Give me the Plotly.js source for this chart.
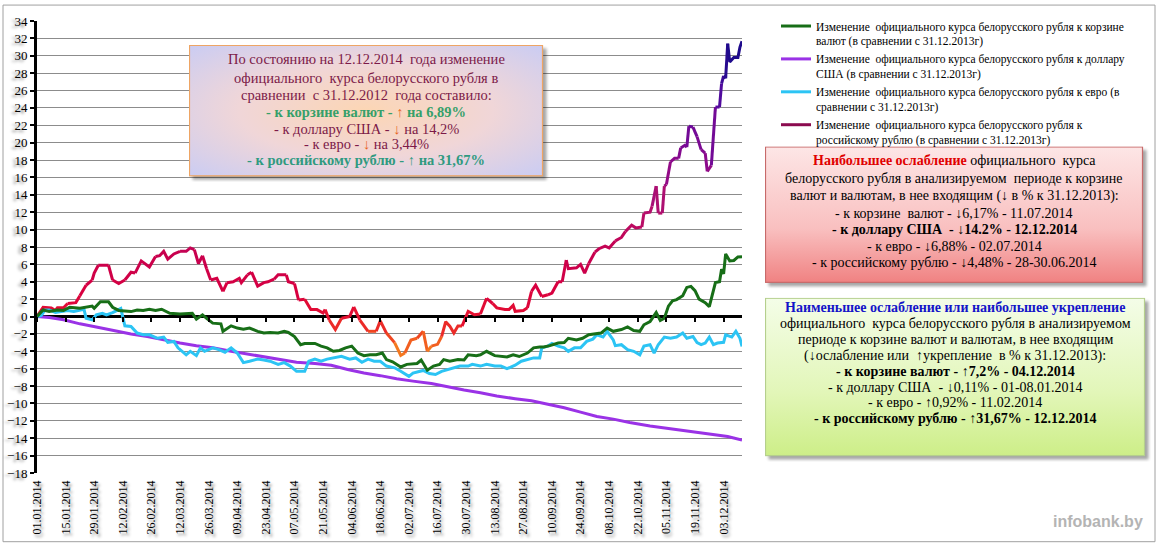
<!DOCTYPE html>
<html><head><meta charset="utf-8">
<script src="https://cdn.plot.ly/plotly-3.0.1.min.js"></script>
<style>html,body{margin:0;padding:0;background:#fff}</style>
</head><body>
<div id="chart" style="width:1161px;height:547px"></div>
<script>
// ---- DATA (day offset from 01.01.2014, value in %) ----
const basketDays = [0,3,6,10,13,16,21,24,27,28,31,35,37,40,46,49,52,55,58,61,65,70,73,76,78,81,83,86,90,91,95,98,101,104,108,111,114,118,121,123,126,129,131,136,139,142,145,148,151,154,157,160,163,166,169,171,174,178,181,186,188,191,194,197,199,202,206,209,211,215,217,220,224,227,230,233,236,240,243,246,248,251,255,258,260,264,267,270,273,276,279,282,286,289,292,295,297,300,303,305,307,309,311,313,316,318,320,322,324,327,329,332,334,335,336,337,339,341,343,345];
const basketVals = [0,0.76,0.57,0.76,0.7,1.07,0.95,1.07,1.2,0.95,1.7,1.7,1.07,0.7,0.57,0.76,0.7,0.84,0.7,0.84,0.38,0.3,0.3,0.38,-0.3,0.19,-0.2,-0.76,-0.84,-1.7,-1.07,-1.33,-1.45,-1.33,-1.7,-1.9,-1.83,-1.9,-1.7,-1.83,-2.3,-3.24,-3.1,-3.1,-3.4,-3.6,-4.0,-3.9,-3.6,-3.4,-4.2,-4.5,-4.4,-4.4,-4.2,-4.95,-5.2,-5.8,-5.5,-5.4,-5.0,-6.17,-5.7,-5.5,-4.95,-5.14,-4.95,-5.0,-4.4,-4.5,-4.4,-4.0,-4.5,-4.6,-4.65,-4.4,-4.6,-4.2,-3.6,-3.5,-3.5,-3.35,-3.05,-3.0,-2.5,-2.7,-2.5,-2.1,-2.0,-1.9,-1.33,-1.7,-1.5,-1.2,-1.6,-1.7,-0.95,-0.57,0.46,-0.46,-0.2,1.2,1.8,1.95,2.4,3.35,3.47,2.97,2.0,1.6,1.14,3.9,4.0,5.45,4.9,7.2,6.4,6.45,6.86,6.89];

const usdDays = [0,6,13,21,29,37,46,54,62,70,78,86,95,103,111,119,127,136,144,152,160,168,176,184,193,201,209,217,225,234,242,250,258,266,274,282,290,300,310,320,330,338,345];
const usdVals = [0,-0.11,-0.38,-0.84,-1.2,-1.6,-2.0,-2.3,-2.7,-3.05,-3.35,-3.6,-4.0,-4.3,-4.6,-4.95,-5.26,-5.4,-5.6,-6.1,-6.5,-6.8,-7.16,-7.43,-7.7,-8.07,-8.46,-8.76,-9.14,-9.45,-9.7,-10.1,-10.5,-11.0,-11.5,-11.8,-12.2,-12.6,-12.9,-13.2,-13.5,-13.8,-14.2];

const eurDays = [0,2,4,6,9,12,15,18,21,23,24,27,29,32,34,37,41,42,43,46,49,52,55,59,62,64,67,69,73,75,78,80,82,86,89,92,95,98,101,104,108,111,114,118,121,124,127,131,133,136,139,142,145,149,153,156,159,162,165,168,171,175,178,182,184,188,189,192,195,198,201,204,207,211,213,217,220,224,227,230,234,237,240,243,246,247,250,252,255,258,260,263,266,269,272,274,277,279,282,283,286,289,292,295,297,300,302,304,307,310,313,316,318,321,323,325,327,329,331,333,336,337,340,342,344,345];
const eurVals = [0,0.1,0.76,0.76,0.46,0.57,0.69,0.57,0.76,0.84,-0.19,-0.38,0.19,0.38,0.19,0.46,0.92,0,-1.07,-1.14,-1.9,-2.1,-2.1,-2.5,-2.36,-2.97,-2.86,-3.6,-4.4,-4.0,-4.5,-3.6,-4.0,-3.6,-3.8,-4.1,-3.6,-4.2,-5.3,-5.14,-4.9,-5.0,-5.14,-5.5,-5.3,-5.7,-6.3,-6.3,-5.14,-4.9,-5.14,-4.9,-4.76,-4.57,-4.9,-4.76,-5.26,-4.9,-5.14,-5.14,-5.7,-5.9,-6.3,-6.88,-6.5,-6.3,-6.2,-6.55,-6.67,-6.3,-6.1,-5.9,-5.7,-5.7,-5.5,-5.7,-5.5,-5.7,-5.7,-6.0,-5.6,-5.14,-4.95,-4.76,-4.76,-3.6,-3.4,-3.1,-3.4,-3.6,-4.0,-3.6,-3.6,-2.86,-2.6,-2.1,-2.36,-1.7,-2.7,-3.35,-3.24,-3.8,-4.0,-4.4,-3.4,-3.24,-4.2,-3.24,-2.36,-2.5,-2.36,-1.9,-2.5,-2.3,-3.0,-3.24,-3.05,-2.36,-3.24,-3.05,-2.97,-2.1,-2.36,-1.7,-2.5,-3.44];

const rubDays = [0,3,7,9,10,13,15,19,21,24,27,28,30,35,37,40,43,46,48,51,55,58,60,62,64,67,70,73,75,77,79,81,83,85,88,91,93,96,99,100,103,105,108,111,113,116,118,122,123,126,128,131,134,137,140,141,143,146,149,153,155,158,162,166,168,171,175,178,180,183,186,189,191,193,196,198,200,202,204,206,208,211,214,217,220,223,225,229,231,233,234,238,240,242,244,247,250,252,255,257,259,260,264,266,268,270,273,275,278,280,283,286,288,291,293,296,297,300,301,303,304,306,307,308,310,312,314,315,317,318,319,321,323,325,327,328,330,332,334,335,336,337,338,339,341,343,344,345];
const rubVals = [0,1.07,1.0,0.7,1.0,1.0,1.5,1.6,2.4,3.6,4.2,5.0,5.9,5.9,4.2,3.8,4.2,5.1,5.0,6.4,5.7,6.9,7.0,7.5,6.6,7.2,7.5,7.5,7.9,7.7,6.1,7.0,5.5,4.2,4.4,2.9,3.9,4.0,4.4,3.9,4.8,5.1,3.5,3.9,4.0,4.3,4.8,4.8,4.0,3.8,1.9,2.0,0.8,0.8,0.4,0.8,-0.4,-1.5,-0.2,0,1.1,-0.4,-1.7,-1.7,-0.5,-1.9,-3.0,-4.48,-4.2,-2.7,-2.5,-1.7,-4.0,-3.4,-3.2,-2.3,-0.6,-1.1,-1.9,-1.1,-1.1,0.6,0.2,0.3,2.1,1.5,1.0,0.8,0.8,1.3,0.6,0.7,1.0,2.9,3.6,2.3,2.5,2.7,4.0,4.0,6.5,5.5,5.6,6.0,5.0,6.1,7.4,7.8,8.1,7.9,8.7,9.1,9.8,10.5,10.2,10.3,11.9,12.0,12.7,15.0,11.9,11.9,15.0,15.2,17.8,18.2,18.2,19.4,19.7,19.5,21.9,21.8,20.7,19.2,18.8,16.7,17.4,24.1,24.1,26.8,27.7,27.4,31.4,29.3,29.8,29.8,31.0,31.67];

const seriesNames = [
  "Изменение  официального курса белорусского рубля к корзине<br>валют (в сравнении с 31.12.2013г)",
  "Изменение  официального курса белорусского рубля к доллару<br>США (в сравнении с 31.12.2013г)",
  "Изменение  официального курса белорусского рубля к евро (в<br>сравнении с 31.12.2013г)",
  "Изменение  официального курса белорусского рубля к<br>российскому рублю (в сравнении с 31.12.2013г)"
];

// ---- helpers ----
const W = 1161, H = 547, ML = 37, MR = 419, MT = 19, MB = 74;
const PW = W - ML - MR, PH = H - MT - MB;
const PX = p => (p - ML) / PW;
const PY = p => (H - MB - p) / PH;
const toDate = d => new Date(Date.UTC(2014, 0, 1) + d * 864e5).toISOString().slice(0, 10);

const serif = 'Liberation Serif, Times New Roman, serif';

// ruble line colour by value
const stops = [[-4.5,[245,132,31]],[-2,[240,70,32]],[0,[230,16,48]],[3,[216,0,64]],[7,[200,0,78]],[12,[180,16,108]],[18,[140,10,140]],[24,[90,10,160]],[30,[30,10,140]]];
function rubColor(v){
  if (v <= stops[0][0]) return 'rgb(' + stops[0][1].join(',') + ')';
  for (let i = 0; i < stops.length - 1; i++){
    const [a, ca] = stops[i], [b, cb] = stops[i+1];
    if (v <= b){
      const t = (v - a) / (b - a);
      return 'rgb(' + ca.map((c, k) => Math.round(c + (cb[k] - c) * t)).join(',') + ')';
    }
  }
  return 'rgb(' + stops[stops.length-1][1].join(',') + ')';
}

const traces = [];
// ruble segments
(function(){
  let cur = null;
  for (let i = 0; i < rubDays.length - 1; i++){
    const mid = Math.round((rubVals[i] + rubVals[i+1]) / 2);
    const c = rubColor(mid);
    if (cur && cur.line.color === c){
      cur.x.push(toDate(rubDays[i+1])); cur.y.push(rubVals[i+1]);
    } else {
      cur = {type:'scatter', mode:'lines', x:[toDate(rubDays[i]), toDate(rubDays[i+1])], y:[rubVals[i], rubVals[i+1]],
             line:{color:c, width:3}, showlegend:false, hoverinfo:'skip'};
      traces.push(cur);
    }
  }
})();

traces.push({type:'scatter', mode:'lines', name:seriesNames[1], x:usdDays.map(toDate), y:usdVals, line:{color:'#9a32e6', width:3}, legendrank:2});
traces.push({type:'scatter', mode:'lines', name:seriesNames[2], x:eurDays.map(toDate), y:eurVals, line:{color:'#2cc4f4', width:3}, legendrank:3});
traces.push({type:'scatter', mode:'lines', name:seriesNames[0], x:basketDays.map(toDate), y:basketVals, line:{color:'#176e17', width:3}, legendrank:1});
traces.push({type:'scatter', mode:'lines', name:seriesNames[3], x:[null], y:[null], line:{color:'#8b0b4f', width:3}, legendrank:4});
// helper trace for zero-line ticks
traces.push({type:'scatter', mode:'lines', x:[toDate(0)], y:[null], xaxis:'x2', showlegend:false, hoverinfo:'skip'});

// ---- boxes ----
function boxImage(x0, y0, x1, y1, grad, stroke){
  const w = x1 - x0, h = y1 - y0;
  const svg = `<svg xmlns="http://www.w3.org/2000/svg" width="${w+6}" height="${h+6}" viewBox="0 0 ${w+6} ${h+6}" preserveAspectRatio="none"><defs>${grad}<filter id="b" x="-10%" y="-10%" width="120%" height="120%"><feGaussianBlur stdDeviation="1.6"/></filter></defs><rect x="3.5" y="3.5" width="${w}" height="${h}" fill="#000" opacity="0.35" filter="url(#b)"/><rect x="0.5" y="0.5" width="${w-1}" height="${h-1}" fill="url(#g)" stroke="${stroke}" stroke-width="1.2"/></svg>`;
  return {source:'data:image/svg+xml;charset=utf-8,' + encodeURIComponent(svg), xref:'paper', yref:'paper',
    x:PX(x0), y:PY(y0), sizex:(w+6)/PW, sizey:(h+6)/PH, xanchor:'left', yanchor:'top', sizing:'stretch', layer:'above'};
}
const g1 = '<radialGradient id="g" cx="50%" cy="50%" r="72%"><stop offset="0" stop-color="#fcd6b4"/><stop offset="0.5" stop-color="#f0d6d8"/><stop offset="1" stop-color="#c9ccf4"/></radialGradient>';
const g2 = '<linearGradient id="g" x1="0" y1="0" x2="0" y2="1"><stop offset="0" stop-color="#fde6e6"/><stop offset="0.6" stop-color="#f9c0c0"/><stop offset="1" stop-color="#f08282"/></linearGradient>';
const g3 = '<linearGradient id="g" x1="0" y1="0" x2="0" y2="1"><stop offset="0" stop-color="#f4fde8"/><stop offset="0.6" stop-color="#e2f6b8"/><stop offset="1" stop-color="#cdee88"/></linearGradient>';

const images = [
  boxImage(189, 43, 543, 175, g1, '#eea564'),
  boxImage(765, 145, 1143, 282, g2, '#c76a6a'),
  boxImage(765, 297, 1145, 456, g3, '#b5cf8d')
];

const annotations = [];
function lines(arr, xc, ys, size, color){
  arr.forEach((t, i) => annotations.push({xref:'paper', yref:'paper', x:PX(xc), y:PY(ys[i]), xanchor:'center', yanchor:'middle',
    text:t, showarrow:false, font:{family:serif, size:size, color:color}}));
}
const mar = '#7c1a48', grn = '#36a06a', tea = '#2f9a80', arr = '#e8641e';
lines([
  'По состоянию на 12.12.2014  года изменение',
  'официального  курса белорусского рубля в',
  'сравнении  с 31.12.2012  года составило:',
  `<b><span style="color:${grn}">- к корзине валют - </span><span style="color:${arr}">↑</span><span style="color:${grn}"> на 6,89%</span></b>`,
  `- к доллару США - <span style="color:${arr}">↓</span> на 14,2%`,
  `- к евро - <span style="color:${arr}">↓</span> на 3,44%`,
  `<b><span style="color:${tea}">- к российскому рублю - ↑ на 31,67%</span></b>`
], 366, [57, 76, 93, 110, 127, 143, 159], 14.5, mar);

lines([
  '<b><span style="color:#e00000">Наибольшее ослабление</span></b> официального  курса',
  'белорусского рубля в анализируемом  периоде к корзине',
  'валют и валютам, в нее входящим (↓ в % к 31.12.2013):',
  '- к корзине  валют - ↓6,17% - 11.07.2014',
  '<b>- к доллару США  - ↓14.2% - 12.12.2014</b>',
  '- к евро - ↓6,88% - 02.07.2014',
  '- к российскому рублю - ↓4,48% - 28-30.06.2014'
], 954, [159, 177, 195, 212, 228, 245, 262], 14, '#000');

lines([
  '<b><span style="color:#1414c8">Наименьшее ослабление или наибольшее укрепление</span></b>',
  'официального  курса белорусского рубля в анализируемом',
  'периоде к корзине валют и валютам, в нее входящим',
  '(↓ослабление или  ↑укрепление  в % к 31.12.2013):',
  '<b>- к корзине валют - ↑7,2% - 04.12.2014</b>',
  '- к доллару США  - ↓0,11% - 01-08.01.2014',
  '- к евро - ↑0,92% - 11.02.2014',
  '<b>- к российскому рублю - ↑31,67% - 12.12.2014</b>'
], 955, [307, 323, 339, 355, 371, 387, 402, 418], 14, '#000');

annotations.push({xref:'paper', yref:'paper', x:PX(1145), y:PY(522), xanchor:'right', yanchor:'middle', showarrow:false,
  text:'<b>infobank.by</b>', font:{family:'Liberation Sans, Arial, sans-serif', size:16, color:'#b4b4b4'}});

const shapes = [
  {type:'rect', xref:'paper', yref:'paper', x0:PX(3), x1:PX(1155), y0:PY(542), y1:PY(3), line:{color:'#a0a0a0', width:1}, fillcolor:'rgba(0,0,0,0)', layer:'below'}
];

const tickShadow = '-3px 2px 3px rgba(0,0,0,0.45)';
const layout = {
  width:W, height:H, margin:{l:ML, r:MR, t:MT, b:MB, pad:0},
  paper_bgcolor:'#fff', plot_bgcolor:'#fff',
  showlegend:true,
  legend:{x:PX(776), y:PY(10), xanchor:'left', yanchor:'top', bgcolor:'rgba(0,0,0,0)', valign:'top',
    font:{family:serif, size:11.5, color:'#000'}, tracegroupgap:0, itemwidth:30, traceorder:'normal'},
  xaxis:{type:'date', range:[toDate(0), toDate(345)], tick0:toDate(0), dtick:14*864e5, tickformat:'%d.%m.%Y',
    tickangle:-90, showgrid:false, showline:false, zeroline:false, ticks:'', ticklabelstandoff:4,
    tickfont:{family:serif, size:12, color:'#000', shadow:tickShadow}},
  xaxis2:{type:'date', overlaying:'x', anchor:'free', position:PY(315.8) , range:[toDate(0), toDate(345)], tick0:toDate(0), dtick:14*864e5,
    showgrid:false, showline:false, zeroline:false, ticks:'outside', ticklen:5, tickwidth:2, tickcolor:'#000', showticklabels:false, side:'bottom'},
  yaxis:{range:[-18, 34], dtick:2, tick0:0, showgrid:true, gridcolor:'#8c8c8c', gridwidth:1,
    zeroline:true, zerolinecolor:'#000', zerolinewidth:3, showline:true, linecolor:'#000', linewidth:3,
    ticks:'outside', ticklen:4, tickwidth:2, tickcolor:'#000',
    tickfont:{family:serif, size:13, color:'#000', shadow:tickShadow}},
  images:images, annotations:annotations, shapes:shapes, hovermode:false
};
Plotly.newPlot('chart', traces, layout, {displayModeBar:false, staticPlot:true});
</script>
</body></html>
